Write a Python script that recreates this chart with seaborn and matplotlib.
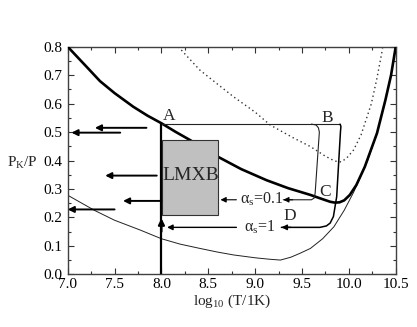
import numpy as np
import pandas as pd
import matplotlib
matplotlib.use("Agg")
import matplotlib.pyplot as plt
from matplotlib.patches import Rectangle
from matplotlib.ticker import MultipleLocator, FormatStrFormatter
import seaborn as sns

# ---------------- data ----------------
thick_x = [7.0, 7.2, 7.345, 7.5, 7.7, 7.85, 8.0, 8.15, 8.305, 8.45, 8.61, 8.85, 9.12, 9.35,
           9.59, 9.72, 9.80, 9.85, 9.90, 9.95, 10.01, 10.08, 10.17, 10.30, 10.39, 10.45, 10.5]
thick_y = [0.800, 0.730, 0.679, 0.637, 0.589, 0.558, 0.531, 0.501, 0.472, 0.443, 0.412, 0.370,
           0.331, 0.303, 0.279, 0.264, 0.255, 0.252, 0.253, 0.260, 0.279, 0.314, 0.378, 0.496,
           0.613, 0.700, 0.800]

thin_x = [7.0, 7.15, 7.29, 7.5, 7.77, 8.0, 8.2, 8.41, 8.6, 8.77, 9.0, 9.15, 9.27, 9.38, 9.48,
          9.59, 9.72, 9.84, 9.95, 10.05, 10.12, 10.2, 10.3, 10.39, 10.45, 10.5]
thin_y = [0.278, 0.250, 0.224, 0.190, 0.156, 0.125, 0.106, 0.091, 0.078, 0.068, 0.058, 0.053,
          0.050, 0.060, 0.074, 0.091, 0.125, 0.167, 0.225, 0.288, 0.340, 0.400, 0.496, 0.613,
          0.700, 0.800]

dot_x = [8.18, 8.3, 8.41, 8.52, 8.77, 9.0, 9.16, 9.4, 9.59, 9.75, 9.85, 9.92, 9.98, 10.05,
         10.13, 10.24, 10.30, 10.36]
dot_y = [0.800, 0.757, 0.718, 0.689, 0.624, 0.570, 0.525, 0.481, 0.449, 0.415, 0.398, 0.395,
         0.410, 0.437, 0.490, 0.600, 0.690, 0.794]

# evolutionary tracks
accr_x = [8.0, 8.0]            # vertical accretion line up to A
accr_y = [0.0, 0.528]
ab_x = [8.0, 9.906]            # A -> B
ab_y = [0.528, 0.528]
track01_x = [9.60, 9.65, 9.675, 9.685, 9.64, 9.63, 9.60, 9.30]
track01_y = [0.528, 0.525, 0.515, 0.500, 0.285, 0.268, 0.262, 0.262]
track1_x = [9.906, 9.915, 9.91, 9.87, 9.835, 9.80, 9.76, 9.69, 9.28]
track1_y = [0.528, 0.520, 0.500, 0.273, 0.203, 0.180, 0.170, 0.165, 0.165]

# arrows: (tail x, head x, y)
left_arrows = [(7.84, 7.29, 0.515), (7.56, 7.04, 0.498), (7.95, 7.40, 0.347),
               (8.0, 7.59, 0.258), (7.50, 7.0, 0.228)]
track_arrows = [(9.40, 9.30, 0.262), (8.80, 8.63, 0.262),
                (9.38, 9.28, 0.165), (8.80, 8.06, 0.165)]
up_arrow = (8.0, 0.15, 0.197)

box_x = [8.01, 8.607]
box_y = [0.208, 0.472]

labels = ["A", "B", "C", "D"]
label_x = [8.08, 9.77, 9.75, 9.37]
label_y = [0.542, 0.536, 0.275, 0.191]
alpha_labels = ["α$_\\mathrm{s}$=0.1", "α$_\\mathrm{s}$=1"]
alpha_x = [9.07, 9.05]
alpha_y = [0.262, 0.165]

# ---------------- style ----------------
sns.set_style("ticks")
plt.rcParams["font.family"] = ["Liberation Serif", "DejaVu Serif"]
plt.rcParams["mathtext.fontset"] = "custom"
plt.rcParams["mathtext.rm"] = "Liberation Serif"
plt.rcParams["mathtext.it"] = "Liberation Serif:italic"

fig = plt.figure(figsize=(4.17, 3.27), dpi=100)
ax = fig.add_axes([0.1624, 0.1612, 0.949 - 0.1624, 0.857 - 0.1612])

sns.lineplot(x=thin_x, y=thin_y, ax=ax, color="#222222", lw=0.7, sort=False, estimator=None, zorder=2)
sns.lineplot(x=dot_x, y=dot_y, ax=ax, color="#333333", lw=1.0, linestyle=(0, (1, 2.2)),
             sort=False, estimator=None, zorder=2)
sns.lineplot(x=thick_x, y=thick_y, ax=ax, color="black", lw=1.9, sort=False, estimator=None, zorder=3)

ax.add_patch(Rectangle((box_x[0], box_y[0]), box_x[1] - box_x[0], box_y[1] - box_y[0],
                       facecolor="#c0c0c0", edgecolor="#333333", lw=0.8, zorder=4))

sns.lineplot(x=ab_x, y=ab_y, ax=ax, color="#222222", lw=0.8, sort=False, estimator=None, zorder=3)
sns.lineplot(x=track01_x, y=track01_y, ax=ax, color="#222222", lw=0.8, sort=False, estimator=None, zorder=3)
sns.lineplot(x=track1_x, y=track1_y, ax=ax, color="black", lw=1.1, sort=False, estimator=None, zorder=3)
sns.lineplot(x=accr_x, y=accr_y, ax=ax, color="black", lw=1.6, sort=False, estimator=None, zorder=5)

for tx, hx, yy in left_arrows:
    ax.annotate("", xy=(hx, yy), xytext=(tx, yy),
                arrowprops=dict(arrowstyle="-|>", lw=1.4, color="black", mutation_scale=9,
                                shrinkA=0, shrinkB=0), zorder=5)
for tx, hx, yy in track_arrows:
    ax.annotate("", xy=(hx, yy), xytext=(tx, yy),
                arrowprops=dict(arrowstyle="-|>", lw=0.8 if yy > 0.2 else 1.0, color="black",
                                mutation_scale=8, shrinkA=0, shrinkB=0), zorder=5)
ax.annotate("", xy=(up_arrow[0], up_arrow[2]), xytext=(up_arrow[0], up_arrow[1]),
            arrowprops=dict(arrowstyle="-|>", lw=1.6, color="black", mutation_scale=9,
                            shrinkA=0, shrinkB=0), zorder=6)

for t, x, y in zip(labels, label_x, label_y):
    ax.text(x, y, t, ha="center", va="baseline", fontsize=12.5, zorder=6)
ax.text((box_x[0] + box_x[1]) / 2, 0.349, "LMXB", ha="center", va="center", fontsize=14, zorder=6)
for t, x, y in zip(alpha_labels, alpha_x, alpha_y):
    ax.text(x, y, t, ha="center", va="center", fontsize=11.5, zorder=6)

ax.set_xlim(7.0, 10.5)
ax.set_ylim(0.0, 0.8)
ax.xaxis.set_major_locator(MultipleLocator(0.5))
ax.xaxis.set_minor_locator(MultipleLocator(0.25))
ax.yaxis.set_major_locator(MultipleLocator(0.1))
ax.yaxis.set_minor_locator(MultipleLocator(0.05))
ax.xaxis.set_major_formatter(FormatStrFormatter("%.1f"))
ax.yaxis.set_major_formatter(FormatStrFormatter("%.1f"))
ax.tick_params(which="both", direction="in", top=True, right=True, colors="#333333",
               labelcolor="black", labelsize=11, width=0.8)
ax.tick_params(which="major", length=4)
ax.tick_params(axis="x", which="major", pad=3)
ax.tick_params(axis="y", which="major", pad=4)
ax.tick_params(which="minor", length=2.5)
for s in ax.spines.values():
    s.set_color("#404040")
    s.set_linewidth(1.0)

ax.set_xlabel("log$_{10}$ (T/1K)", fontsize=11, labelpad=1)
ax.set_ylabel("")
fig.text(38 / 417, 1 - 163 / 327, "P$_\\mathrm{K}$/P", ha="right", va="center", fontsize=11)

fig.savefig("out.png", dpi=100)
